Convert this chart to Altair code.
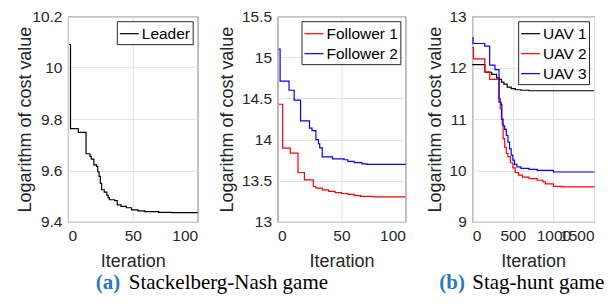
import altair as alt
import pandas as pd

# ---------------- data ----------------
# (a) left: Leader
leader_iter = [1, 2, 8, 14, 17, 18, 20, 22, 23, 24, 25, 26, 28, 30, 31, 32, 36, 38, 41, 45, 49, 54, 59, 70, 80, 100]
leader_cost = [10.09, 9.763, 9.748, 9.665, 9.655, 9.644, 9.622, 9.616, 9.595, 9.577, 9.55, 9.525, 9.516,
               9.504, 9.494, 9.486, 9.483, 9.466, 9.46, 9.455, 9.447, 9.443, 9.44, 9.437, 9.436, 9.436]

# (a) right: Followers
f1_iter = [1, 4, 10, 16, 21, 28, 30, 35, 40, 45, 50, 55, 60, 65, 75, 100]
f1_cost = [14.43, 13.896, 13.835, 13.60, 13.51, 13.43, 13.41, 13.39, 13.37, 13.355, 13.345, 13.335,
           13.32, 13.31, 13.305, 13.305]
f2_iter = [1, 2, 9, 13, 18, 25, 27, 30, 32, 33, 35, 43, 52, 55, 60, 66, 70, 100]
f2_cost = [15.10, 14.71, 14.60, 14.48, 14.227, 14.14, 14.11, 14.0, 13.95, 13.9, 13.79, 13.766, 13.755,
           13.735, 13.72, 13.705, 13.70, 13.695]

# (b) Stag-hunt: UAVs
uav1_iter = [0, 155, 240, 300, 330, 360, 390, 430, 480, 530, 600, 700, 1500]
uav1_cost = [12.06, 11.91, 11.87, 11.80, 11.77, 11.72, 11.68, 11.62, 11.59, 11.57, 11.56, 11.55, 11.55]
uav2_iter = [0, 15, 155, 215, 330, 345, 360, 370, 380, 400, 420, 440, 470, 500, 530, 570, 620, 700,
             800, 870, 900, 1000, 1100, 1500]
uav2_cost = [12.39, 12.17, 11.92, 11.77, 11.40, 11.2, 11.0, 10.9, 10.62, 10.45, 10.33, 10.27, 10.15,
             10.05, 9.96, 9.91, 9.87, 9.84, 9.81, 9.78, 9.74, 9.69, 9.68, 9.67]
uav3_iter = [0, 10, 155, 215, 280, 330, 355, 365, 380, 400, 420, 440, 460, 480, 500, 520, 550, 600,
             700, 800, 1000, 1500]
uav3_cost = [12.58, 12.47, 12.42, 12.05, 11.96, 11.33, 11.28, 11.0, 10.87, 10.8, 10.68, 10.55, 10.42,
             10.3, 10.2, 10.12, 10.07, 10.04, 10.02, 10.0, 9.97, 9.965]

series_a1 = ["Leader"]
series_a2 = ["Follower 1", "Follower 2"]
series_b = ["UAV 1", "UAV 2", "UAV 3"]

x_ticks_a = [0, 50, 100]
y_ticks_a1 = [9.4, 9.6, 9.8, 10.0, 10.2]
y_ticks_a2 = [13, 13.5, 14, 14.5, 15, 15.5]
x_ticks_b = [0, 500, 1000, 1500]
y_ticks_b = [9, 10, 11, 12, 13]

caption_tags = ["(a)", "(b)"]
caption_texts = ["Stackelberg-Nash game", "Stag-hunt game"]

x_title = "Iteration"
y_title = "Logarithm of cost value"


def frame(pairs):
    rows = []
    for name, xs, ys in pairs:
        for xv, yv in zip(xs, ys):
            rows.append({"iter": xv, "cost": yv, "series": name})
    return pd.DataFrame(rows)


df_a1 = frame([(series_a1[0], leader_iter, leader_cost)])
df_a2 = frame([(series_a2[0], f1_iter, f1_cost), (series_a2[1], f2_iter, f2_cost)])
df_b = frame([(series_b[0], uav1_iter, uav1_cost), (series_b[1], uav2_iter, uav2_cost),
              (series_b[2], uav3_iter, uav3_cost)])

SERIF = "Liberation Serif"
TAG_COLOR = "#2a7ab8"
SYM = 19


def panel(df, xdom, xticks, ydom, yticks, cdom, crange, w, h, ytitle_x):
    return alt.Chart(df).mark_line(interpolate="step-after", strokeWidth=1.2).encode(
        x=alt.X("iter:Q", scale=alt.Scale(domain=xdom, nice=False, zero=False),
                axis=alt.Axis(values=xticks, format="d", title=x_title, labelOverlap=False)),
        y=alt.Y("cost:Q", scale=alt.Scale(domain=ydom, nice=False, zero=False),
                axis=alt.Axis(values=yticks, format="~g", title=y_title, labelOverlap=False,
                              titleX=ytitle_x, titleBaseline="middle")),
        color=alt.Color("series:N", scale=alt.Scale(domain=cdom, range=crange),
                        legend=alt.Legend(title=None, orient="top-right", offset=5,
                                          symbolType="stroke", symbolSize=SYM * SYM,
                                          symbolStrokeWidth=1.2)),
    ).properties(width=w, height=h)


p1 = panel(df_a1, [0, 100], x_ticks_a, [9.4, 10.2], y_ticks_a1, series_a1, ["#000000"], 130, 206, -42)
p2 = panel(df_a2, [0, 100], x_ticks_a, [13, 15.5], y_ticks_a2, series_a2, ["#ff0000", "#0000ff"], 128, 206, -50)
p3 = panel(df_b, [0, 1500], x_ticks_b, [9, 13], y_ticks_b, series_b,
           ["#000000", "#ff0000", "#0000ff"], 122, 206, -37)

panels = alt.hconcat(p1, p2, p3, spacing=17).resolve_scale(
    x="independent", y="independent", color="independent"
).resolve_legend(color="independent")

# caption row (positions are layout pixels, measured from the first panel's left edge)
cap_df = pd.DataFrame({"tag": caption_tags, "text": caption_texts,
                       "xtag": [28, 372], "xtext": [61, 405]})
cap_base = alt.Chart(cap_df)
cap_tags = cap_base.mark_text(font=SERIF, fontSize=21, fontWeight="bold", color=TAG_COLOR,
                              align="left", baseline="alphabetic").encode(
    x=alt.X("xtag:Q", scale=alt.Scale(domain=[0, 540], range=[0, 540]), axis=None),
    y=alt.value(15), text="tag:N")
cap_text = cap_base.mark_text(font=SERIF, fontSize=21, color="#000000",
                              align="left", baseline="alphabetic").encode(
    x=alt.X("xtext:Q", scale=alt.Scale(domain=[0, 540], range=[0, 540]), axis=None),
    y=alt.value(15), text="text:N")
captions = alt.layer(cap_tags, cap_text).properties(
    width=540, height=16, view=alt.ViewBackground(stroke="transparent"))

chart = alt.vconcat(panels, captions, spacing=0).resolve_scale(
    x="independent", y="independent"
).properties(
    padding={"left": 8, "top": 0, "right": 0, "bottom": 0}
).configure_view(
    stroke="#262626", strokeWidth=1
).configure_axis(
    domain=False, grid=True, gridColor="#e2e2e2", gridWidth=1, ticks=False,
    labelFont="Liberation Sans", labelFontSize=15.5, labelColor="#262626", labelPadding=6,
    titleFont="Liberation Sans", titleFontSize=18, titleFontWeight="normal", titleColor="#262626",
    titlePadding=1
).configure_axisX(
    labelPadding=7, titlePadding=8
).configure_legend(
    labelFont="Liberation Sans", labelFontSize=15.5, labelColor="#000000",
    fillColor="#ffffff", strokeColor="#262626", padding=2, rowPadding=1, labelOffset=2
)

chart.save("out.html", embed_options={"renderer": "svg", "actions": False})
